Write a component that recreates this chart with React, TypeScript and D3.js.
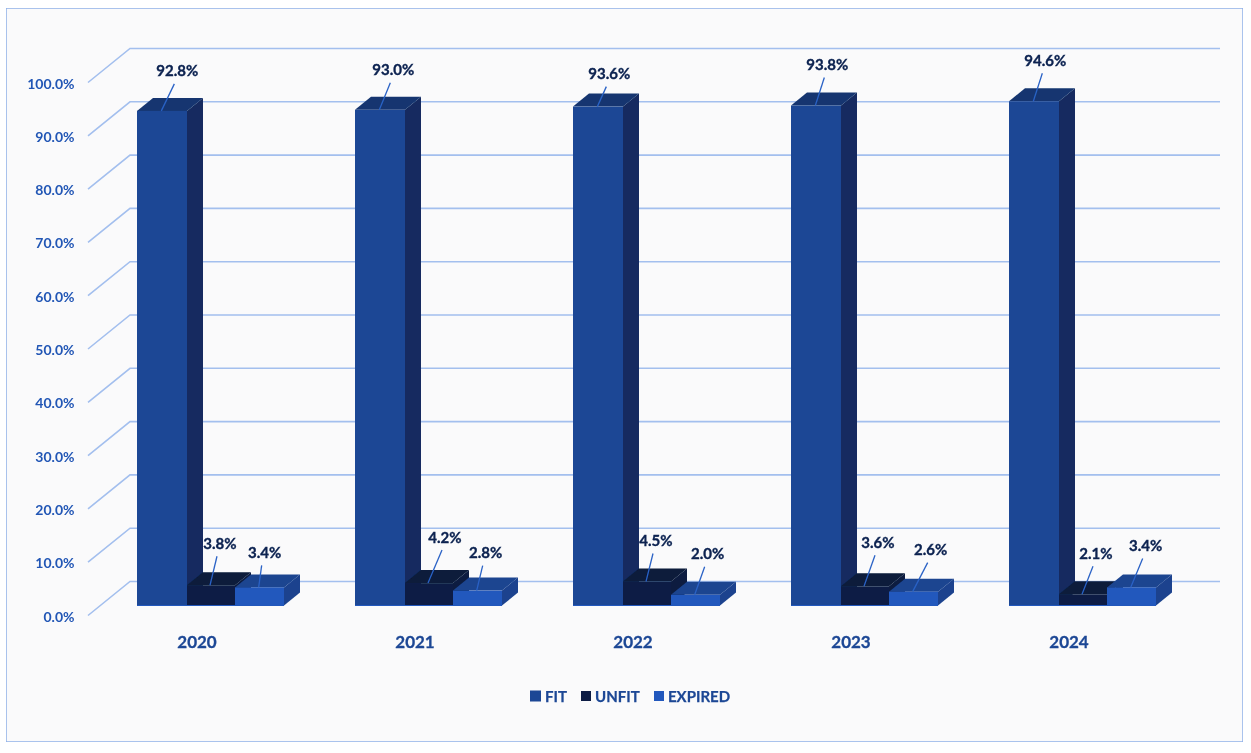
import React from "react";
import * as d3 from "d3";

const years = ["2020", "2021", "2022", "2023", "2024"];
const seriesNames = ["FIT", "UNFIT", "EXPIRED"];
const fit = [92.8, 93.0, 93.6, 93.8, 94.6];
const unfit = [3.8, 4.2, 4.5, 3.6, 2.1];
const expired = [3.4, 2.8, 2.0, 2.6, 3.4];
const seriesValues = [fit, unfit, expired];
const ticks = [0, 10, 20, 30, 40, 50, 60, 70, 80, 90, 100];

const faceColors = [
  { front: "#1c4795", top: "#153670", side: "#122c60" },
  { front: "#0a1f44", top: "#081a3a", side: "#0b1d40" },
  { front: "#2459bd", top: "#1c4490", side: "#1b438e" },
];
// label placement relative to the top-front centre of each bar
const labelDx = [
  [15, 13, 11, 11, 11],
  [9, 16, 9, 13, 13],
  [5, 8, 12, 17, 14],
];
const labelDy = [
  [-40, -40, -33, -41, -41],
  [-42, -46, -41, -44, -41],
  [-35, -38, -41, -42, -42],
];

const W = 1251, H = 753;
const depthX = 16, depthY = 13;
const font = "Lato, Carlito, 'Open Sans', sans-serif";
const y = d3.scaleLinear().domain([0, 100]).range([605.5, 72.5]);
const xGroup = d3.scaleBand().domain(years).range([137, 137 + 218 * 5]).align(0);
const xBar = d3.scaleBand().domain(seriesNames).range([1, 147]);
const grid = "#a3bfee";

// whole-pixel edges of a bar inside its group, so that the faces join without a seam
function barEdges(s: number) {
  const left = s === 0 ? 0 : Math.round(xBar(seriesNames[s]) ?? 0);
  const right = Math.round((xBar(seriesNames[s]) ?? 0) + xBar.bandwidth());
  return [left, right];
}

export default function App() {
  const line = d3.line();
  return (
    <svg width={W} height={H} style={{ position: "absolute", left: 0, top: 0, fontFamily: font }}>
      <defs>
        <filter id="soft" x="0" y="0" width="100%" height="100%">
          <feGaussianBlur stdDeviation="0.45" />
        </filter>
      </defs>
      <rect x={0} y={0} width={W} height={H} fill="#ffffff" />
      <g filter="url(#soft)">
        <rect x={6} y={8} width={1237} height={734} fill="#fafafb" stroke="#8fb0e8" strokeWidth={1.5} />
        {ticks.map((t) => (
          <g key={t}>
            <path
              d={line([[88, y(t) + 10], [130, y(t) - 24], [1220, y(t) - 24]]) ?? ""}
              fill="none"
              stroke={grid}
              strokeWidth={1.6}
            />
            <text x={74.5} y={y(t) + 16} textAnchor="end" fontSize={14} fontWeight={700} fill="#2156b5">
              {t.toFixed(1)}%
            </text>
          </g>
        ))}
        {years.map((yr, i) => {
          const gx = xGroup(yr) ?? 0;
          return (
            <g key={yr}>
              {[0, 1, 2].map((s) => {
                const name = seriesNames[s];
                const [l, r] = barEdges(s);
                const x0 = gx + l;
                const x1 = gx + r;
                const v = seriesValues[s][i];
                const top = y(v), bot = y(0);
                const c = faceColors[s];
                return (
                  <g key={name}>
                    <path
                      d={line([[x1, top], [x1 + depthX, top - depthY], [x1 + depthX, bot - depthY], [x1, bot]]) + "Z"}
                      fill={c.side}
                    />
                    <path
                      d={line([[x0, top], [x0 + depthX, top - depthY], [x1 + depthX, top - depthY], [x1, top]]) + "Z"}
                      fill={c.top}
                    />
                    <rect x={x0} y={top} width={x1 - x0} height={bot - top} fill={c.front} />
                  </g>
                );
              })}
              <path d={`M${gx},${y(0)}H${gx + 147}`} stroke="#2459bd" strokeWidth={1} />
            </g>
          );
        })}
        {years.map((yr, i) => {
          const gx = xGroup(yr) ?? 0;
          return (
            <g key={yr}>
              {seriesNames.map((name, s) => {
                const v = seriesValues[s][i];
                const ax = gx + (xBar(name) ?? 0) + xBar.bandwidth() / 2 - 1;
                const ay = y(v);
                const lx = ax + labelDx[s][i];
                const ly = ay + labelDy[s][i];
                return (
                  <g key={name}>
                    <line x1={ax} y1={ay} x2={lx - 2} y2={ly + 13} stroke="#2a62c6" strokeWidth={1.3} />
                    <text
                      x={lx + 1}
                      y={ly + 5.5}
                      textAnchor="middle"
                      fontSize={15}
                      fontWeight={700}
                      fill="#0a2150"
                      stroke="#0a2150"
                      strokeWidth={0.35}
                    >
                      {v.toFixed(1)}%
                    </text>
                  </g>
                );
              })}
              <text
                x={gx + 60}
                y={648}
                textAnchor="middle"
                fontSize={17}
                fontWeight={700}
                fill="#1c4795"
                stroke="#1c4795"
                strokeWidth={0.3}
              >
                {yr}
              </text>
            </g>
          );
        })}
        {[
          { i: 0, sx: 530, tx: 545, s: 11 },
          { i: 1, sx: 581, tx: 595, s: 10 },
          { i: 2, sx: 654, tx: 668, s: 10 },
        ].map((l) => (
          <g key={l.i}>
            <rect x={l.sx} y={696 - l.s / 2} width={l.s} height={l.s} fill={faceColors[l.i].front} />
            <text x={l.tx} y={701.5} fontSize={15} fontWeight={700} fill="#1c4795" stroke="#1c4795" strokeWidth={0.25}>
              {seriesNames[l.i]}
            </text>
          </g>
        ))}
      </g>
    </svg>
  );
}
